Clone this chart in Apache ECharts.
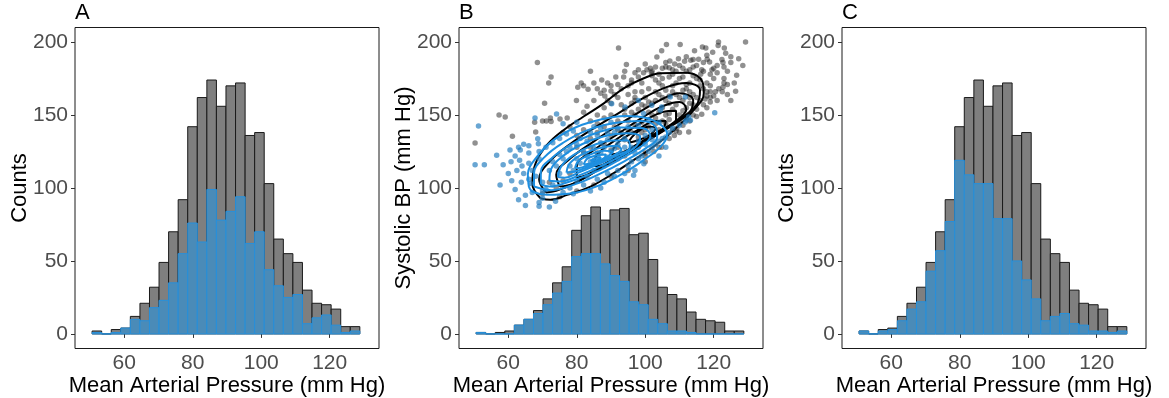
<!DOCTYPE html>
<html>
<head>
<meta charset="utf-8">
<script src="https://cdn.jsdelivr.net/npm/echarts@6/dist/echarts.min.js"></script>
<style>
html,body{margin:0;padding:0;background:#fff;}
#chart{width:1169px;height:398px;}
</style>
</head>
<body>
<div id="chart"></div>
<script>
// ---------------- DATA ----------------
const binStarts = [50.60,53.39,56.19,58.98,61.77,64.57,67.36,70.15,72.94,75.74,78.53,81.32,84.12,86.91,89.70,92.50,95.29,98.08,100.87,103.67,106.46,109.25,112.05,114.84,117.63,120.43,123.22,126.01];
const binWidth = 2.79;
const xTicks = [60, 80, 100, 120];
const yTicks = [0, 50, 100, 150, 200];

const allCountsA = [2,0,3,4,12,21,32,49,70,92,142,162,174,156,170,172,136,138,103,65,55,49,30,21,20,17,5,5];
const subsetCountsA = [1,0,1,4,10,9,18,23,35,55,76,63,99,78,84,94,62,70,44,33,25,27,7,11,13,6,1,2];
const allCountsB = [1,0,1,2,6,10,16,24,35,46,71,81,87,78,85,86,68,69,51,32,27,24,15,10,9,8,2,2];
const subsetCountsB = [1,0,0,0,6,10,14,20,28,36,53,55,55,48,40,36,22,20,10,7,2,2,1,0,0,0,0,0];
const allCountsC = [2,0,3,4,12,21,32,49,70,92,142,162,174,156,170,172,136,138,103,65,55,49,30,21,20,17,5,5];
const subsetCountsC = [2,0,2,3,9,17,22,43,57,77,119,109,103,103,79,79,50,37,24,9,12,14,7,6,2,2,1,2];

// Panel B scatter: [MAP, systolic]
const grayPoints = [
[68.5,186],[72.5,176],[71.8,172],[84,180],[87.3,174],[81.3,172],[80.3,169],[82,170],[83.3,167.6],[90,170],[90,166.5],[88.2,163],[79.9,160],[70.6,158],[83,156],[57.3,150],[59.1,148.7],[72.3,148],[75.1,147.3],[77.2,148],[71.1,146],
[129.3,200],[121.4,200],[121.3,197.7],[123.1,196],[110.2,198.4],[106.2,198.4],[92.2,196],[104.8,194],[114.4,194],[116.7,196.6],[117.7,196],[119.7,193],[123.5,192.3],[127.3,188.6],[128.5,184],[126.7,177.2],[126.4,166.3],[103.4,189.7],[109.7,188.6],[107.2,187],[108.6,185],[111.5,186.8],[113.3,187.5],[94.5,184.7],[115.6,188.2],[118.1,188.2],[118.8,186.3],[122.4,188],[122.7,186],[120,182],[121,184],[123,183],[119.5,181],[116.2,178],[117,180],[116.5,181],[122.7,169],[123,172],[123,175],[124,171],[120,163],[120.5,166],[121.5,168],[122.5,166],[117.5,161],[118,163],[119,162],[116.5,150.5],[91.4,176],[93.7,176],[97,179],[98,181],[99.5,179],[100.5,181],[101.5,182],[101.8,179],[105,182],[106,183],[107,182.5],[108,181],[112,180],[113,181],[114,183],
[95,170],[97,166],[99,172],[101,168],[103,174],[105,170],[107,176],[109,172],[111,176],[113,172],[115,175],[100,162],[102,158],[104,164],[106,160],[108,166],[110,162],[112,168],[114,164],[116,170],[118,172],[96,158],[98,154],[94,150],[92,162],[90,158],[88,155],[86,150],[84,146],[82,152],[85,160],[87,165],[93,157],[95,146],[97,150],[99,145],[101,152],[103,148],[105,155],[107,151],[109,157],[111,153],[113,158],[115,154],[117,157],[119,159],[110,145],[112,148],[114,150],[108,140],[106,144],[104,140],[102,136],[100,140],[98,135],[96,138],[94,133],[92,140],[90,136],[88,142],[86,138],[84,134],[82,140],[80,136],[78,142],[76,138],[80,128],[82,124],[84,128],[86,124],[88,130],[90,126],[92,128],[94,122],[96,126],[98,128],[100,124],[104,128],[107,134],[110,138],[112.7,138.4],[108.5,136],[109,139],[109.2,141],[100,122],[102.5,125],[104.8,128],
[74,100],[76,105],[78,110],[72,104],[70,96],[75,94],[80,98],[85,102],[90,108],[95,112],[100,118],[61.2,135.5],[50.3,130.9],[68,138.4],[67.7,145],[70,146],[72.5,145.5],
[96,172],[98,176],[102,177],[104,172],[106,167],[108,170],[110,175],[112,171],[114,177],[116,174],[118,166],[119,170],[103,166],[105,162],[107,158],[109,164],[111,160],[113,166],[115,162],[117,168],[99,166],[101,159],[97,162],[95,164],[93,168],[91,164],[89,160],[94,154],[96,152],[100,156],[102,150],[104,152],[106,150],[108,154],[110,150],[112,155],[114,157],[116,160],[92,146],[90,150],[88,148],[86,144],[91,142],[93,138],[95,140],[97,143],[99,138],[101,142],[103,144],[105,146],[107,147],[111,143],[113,146],[115,149],
[100,185],[103,183],[104,178],[106,186],[109,180],[110,184],[112,190],[115,184],[117,186],[119,178],[120,175],[121,179],[124,180],[125,186],[125,190],[118,191],[114,188],[111,182],[108,178],[105,175],[102,180],[96,174],[94,180],[89,172],[86,168],[85,172],[88,167],[92,171],[97,160],[99,157],[119,166],[118,155],[121,160],[124,164],[126,172],[125,160],[113,162],[111,167],[107,163],[103,160]
];
const bluePoints = [
[51.3,142.5],[50.3,116],[53,116],[57.6,102],[60.5,126],[56.6,122.5],[63,128],[64.5,130],[66,129],[63.5,126],[68.6,133.8],[68.8,130.4],[67.8,148],[74.1,150.7],[120.3,151.6],[112,146.4],[113.2,146.4],[111.7,145.3],[96.6,108.8],[99.6,116.7],
[63.3,119],[64,115],[66,117],[67,112],[64.5,110],[63.8,104],[66.5,103],[68,108],[62,99],[63,92],[65,95],[67,97],[69,90],[70,93],[72,87],[73.8,91],[71,99],[70,104],[66,106],[62.5,112],[60,110],[61,105],[65,88],[69,87.5],[60.8,118],[58.5,116],[62,122],[66,124],[69,125],[71,128],[73,131],[75,134],[77,137],[79,139],[69,120],
[90.2,157.8],[94.1,155.5],[98,160],[101.9,156.7],[104.8,155.5],[107.3,162.4],[111.7,162.4],[112.7,148.7],[104.4,153.3],[99.5,151],
[75,110],[78,115],[80,120],[82,125],[84,118],[86,122],[88,128],[90,125],[92,130],[94,134],[96,128],[98,132],[100,136],[85,112],[88,115],[90,118],[92,120],[80,105],[83,108],[86,106],[89,110],[92,112],[95,115],[98,120],[101,125],[103,130],[105,134],[77,125],[80,130],[83,132],[86,136],[89,138],[92,141],[95,142],[74,115],[76,120],[72,112],[78,100],[82,102],[87,100],[93,105],[97,112],[104,122],[106,128],[107,138],[102,140],[98,143],[90,145],[85,142],[80,145],[76,144],[104,145],[101,147],
[70,98],[73,102],[76,97],[79,96],[84,98],[88,104],[91,108],[94,110],[96,118],[99,122],[102,128],[104,132],[106,135],[108,141],[110,143],[73,118],[75,123],[78,128],[81,134],[84,138],[87,141],[91,138],[94,128],[97,124],[100,130],[102,133],[83,115],[85,119],[87,124],[89,121],[91,127],[93,124],[79,112],[81,117],[83,122],[85,127],[87,131],[89,133]
];

// Panel B density contours
const blackContour1 = [[69.4,93],[67,103.3],[68,117],[71.3,129.5],[76.2,139.8],[82,149],[87.9,158],[93.7,168.3],[99.6,175.2],[104.5,178.6],[112.3,179],[116.7,172.8],[117.1,165],[114.2,153.5],[108.4,139.8],[102.5,128.4],[96.7,119.3],[90.8,110.2],[84,101],[77.2,95.3],[72.3,91.9],[69.4,93]];
const blackContour2 = [[71,97],[69,106],[72,118],[78,130],[85,141],[92,151],[99,161],[106,169],[112,172],[116,167],[115,157],[110,147],[103,136],[96,126],[88,115],[80,104],[74,98],[71,97]];
const blackContour3 = [[75,101],[74,109],[78,120],[85,132],[92,143],[99,153],[105,161],[110,165],[114,160],[113,152],[108,143],[101,133],[94,123],[86,112],[79,103],[75,101]];
const blackContour4 = [[80,107],[80,115],[85,126],[92,137],[99,148],[105,156],[110,159],[112,154],[109,146],[103,137],[96,127],[89,117],[83,109],[80,107]];
const blackContour5 = [[85,115],[86,123],[92,134],[99,145],[105,152],[109,153],[109,147],[104,139],[97,129],[90,119],[86,115],[85,115]];
const blackContour6 = [[90,123],[92,131],[98,140],[103,146],[106,146],[105,140],[100,133],[94,125],[90,123]];
const blackContour7 = [[95,131],[97,137],[101,142],[103,141],[101,136],[97,132],[95,131]];

const blueContour1 = [[66,101],[65.7,109],[68.4,121.5],[73.3,133],[80.1,142],[87,147],[94.2,149.4],[100.6,147.8],[105,142.5],[106.4,136.4],[104.5,128.4],[99.6,119.3],[93.7,110.2],[87,102.2],[79.1,96.5],[71.3,95.3],[67,97.6],[66,101]];
const blueContour2 = [[67.5,101],[67.5,110],[70.5,121],[76,131],[83,139.5],[91,144.5],[98.5,146],[103,142],[103.5,135],[100,127],[94,118.5],[87,110],[80,103],[72.5,98.5],[67.5,101]];
const blueContour3 = [[69.5,102.5],[69.5,111],[73,121],[78.5,130],[85.5,137.5],[93,141.5],[99.5,141],[101.5,135.5],[98.5,128],[92.5,119.5],[85.5,111],[78,104.5],[72,101],[69.5,102.5]];
const blueContour4 = [[72,105],[72.5,113],[76,122],[81.5,130],[88,135.5],[94.5,137.5],[98.5,135],[97.5,129],[93,122],[87,115],[80.5,108.5],[75,104.5],[72,105]];
const blueContour5 = [[74.5,107.5],[75.5,115],[79,122.5],[84.5,129],[90.5,132.5],[95,132.5],[95.5,128],[91.5,122],[86,116],[80.5,110.5],[76.5,107],[74.5,107.5]];
const blueContour6 = [[77,110.5],[78,117],[82,123.5],[87,127.5],[91.5,129],[93,126.5],[90.5,122],[85.5,116.5],[80.5,112],[77,110.5]];
const blueContour7 = [[79.5,113.5],[80.5,118.5],[84,123],[88,125.5],[90.5,125],[89,121.5],[85,117],[81.5,114],[79.5,113.5]];
const blueContour8 = [[82,116],[83,120],[86,122.5],[88.5,123],[88,120.5],[85,117.5],[82,116]];
const blueContour9 = [[84,118.5],[85.5,120.5],[87,121],[86.5,119.5],[84,118.5]];

const blackContours = [blackContour1,blackContour2,blackContour3,blackContour4,blackContour5,blackContour6,blackContour7];
const blueContours = [blueContour1,blueContour2,blueContour3,blueContour4,blueContour5,blueContour6,blueContour7,blueContour8,blueContour9];

// ---------------- CHART ----------------
const FONT = '"Liberation Sans", Arial, sans-serif';
const chart = echarts.init(document.getElementById('chart'), null, {renderer: 'canvas'});

function histData(counts) {
  return binStarts.map((s, i) => [s, s + binWidth, counts[i]]);
}
function barRender(fill, stroke) {
  return function (params, api) {
    const p0 = api.coord([api.value(0), api.value(2)]);
    const p1 = api.coord([api.value(1), 0]);
    return {
      type: 'rect',
      shape: {x: p0[0], y: p0[1], width: p1[0] - p0[0], height: p1[1] - p0[1]},
      style: {fill: fill, stroke: stroke, lineWidth: 1}
    };
  };
}

const grids = [75, 459, 842].map(l => ({left: l, top: 27.5, width: 304, height: 321, show: true, borderColor: '#1a1a1a', borderWidth: 1, backgroundColor: 'transparent', containLabel: false, outerBoundsMode: 'none'}));

function xAx(i) {
  return {
    type: 'value', gridIndex: i, min: 45.6, max: 134.4,
    name: 'Mean Arterial Pressure (mm Hg)', nameLocation: 'middle', nameGap: 26, nameMoveOverlap: false,
    nameTextStyle: {fontFamily: FONT, fontSize: 22, color: '#000'},
    axisLine: {show: false},
    axisTick: {show: true, customValues: xTicks, length: 4, lineStyle: {color: '#333'}},
    axisLabel: {customValues: xTicks, fontFamily: FONT, fontSize: 21, color: '#4d4d4d', margin: 4},
    splitLine: {show: false}
  };
}
function yAx(i, name) {
  return {
    type: 'value', gridIndex: i, min: -10, max: 210,
    name: name, nameLocation: 'middle', nameGap: 44, nameRotate: 90, nameMoveOverlap: false,
    nameTextStyle: {fontFamily: FONT, fontSize: 22, color: '#000'},
    axisLine: {show: false},
    axisTick: {show: true, customValues: yTicks, length: 4, lineStyle: {color: '#333'}},
    axisLabel: {customValues: yTicks, fontFamily: FONT, fontSize: 21, color: '#4d4d4d', margin: 7},
    splitLine: {show: false}
  };
}

const GRAY_FILL = '#7f7f7f', GRAY_STROKE = '#1a1a1a';
const BLUE_FILL = '#4a8bb8', BLUE_STROKE = '#2690dc';

const series = [];
function addHist(i, all, sub) {
  series.push({type: 'custom', xAxisIndex: i, yAxisIndex: i, renderItem: barRender(GRAY_FILL, GRAY_STROKE), data: histData(all), z: 1, silent: true});
  series.push({type: 'custom', xAxisIndex: i, yAxisIndex: i, renderItem: barRender(BLUE_FILL, BLUE_STROKE), data: histData(sub), z: 2, silent: true});
}
addHist(0, allCountsA, subsetCountsA);
addHist(1, allCountsB, subsetCountsB);
addHist(2, allCountsC, subsetCountsC);

series.push({type: 'scatter', xAxisIndex: 1, yAxisIndex: 1, data: grayPoints, symbolSize: 5.5, itemStyle: {color: 'rgba(30,30,30,0.62)'}, z: 3, silent: true});
blackContours.forEach(c => series.push({type: 'line', xAxisIndex: 1, yAxisIndex: 1, data: c, showSymbol: false, smooth: 0.4, lineStyle: {color: '#000', width: 2}, z: 4, silent: true}));
series.push({type: 'scatter', xAxisIndex: 1, yAxisIndex: 1, data: bluePoints, symbolSize: 5.5, itemStyle: {color: 'rgba(35,125,190,0.85)'}, z: 5, silent: true});
blueContours.forEach(c => series.push({type: 'line', xAxisIndex: 1, yAxisIndex: 1, data: c, showSymbol: false, smooth: 0.4, lineStyle: {color: '#1e8fe0', width: 2}, z: 6, silent: true}));

const titles = [['A', 75], ['B', 459], ['C', 842]].map(([t, l]) => ({
  text: t, left: l, top: 2, padding: 0,
  textStyle: {fontFamily: FONT, fontSize: 22, fontWeight: 'normal', color: '#000'}
}));

chart.setOption({
  animation: false,
  backgroundColor: '#fff',
  title: titles,
  grid: grids,
  xAxis: [xAx(0), xAx(1), xAx(2)],
  yAxis: [yAx(0, 'Counts'), yAx(1, 'Systolic BP (mm Hg)'), yAx(2, 'Counts')],
  series: series
});
</script>
</body>
</html>
